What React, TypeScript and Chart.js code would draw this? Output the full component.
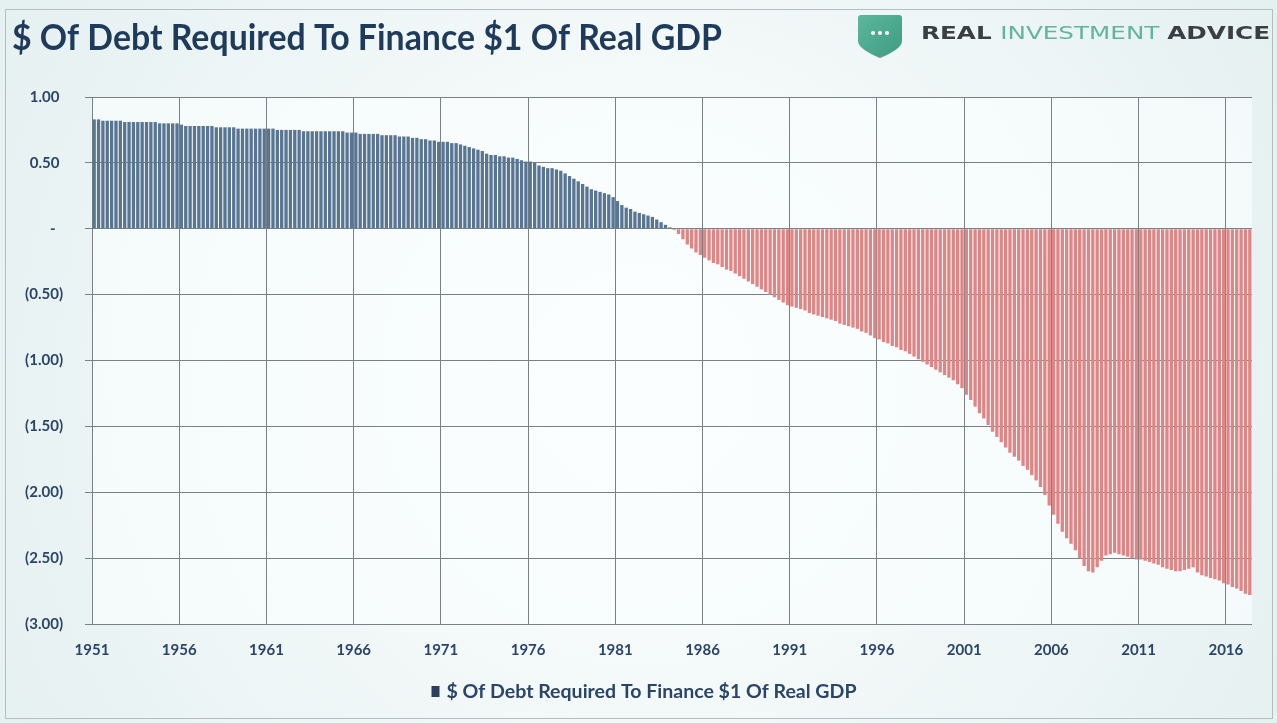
import React, { useEffect, useRef } from "react";
import { Chart, registerables } from "chart.js";

Chart.register(...registerables);

const TITLE = "$ Of Debt Required To Finance $1 Of Real GDP";
const SERIES_NAME = "$ Of Debt Required To Finance $1 Of Real GDP";
const FIRST_YEAR = 1951;
const X_TICK_YEARS = [1951, 1956, 1961, 1966, 1971, 1976, 1981, 1986, 1991, 1996, 2001, 2006, 2011, 2016];
const Y_TICKS = [1, 0.5, 0, -0.5, -1, -1.5, -2, -2.5, -3];

// Quarterly values, Q1..Q4 per row
const values1950s = [
  0.83, 0.83, 0.82, 0.82, // 1951
  0.82, 0.82, 0.82, 0.81, // 1952
  0.81, 0.81, 0.81, 0.81, // 1953
  0.81, 0.81, 0.81, 0.80, // 1954
  0.80, 0.80, 0.80, 0.80, // 1955
  0.79, 0.78, 0.78, 0.78, // 1956
  0.78, 0.78, 0.78, 0.78, // 1957
  0.77, 0.77, 0.77, 0.77, // 1958
  0.77, 0.76, 0.76, 0.76, // 1959
];
const values1960s = [
  0.76, 0.76, 0.76, 0.76, // 1960
  0.76, 0.76, 0.75, 0.75, // 1961
  0.75, 0.75, 0.75, 0.75, // 1962
  0.74, 0.74, 0.74, 0.74, // 1963
  0.74, 0.74, 0.74, 0.74, // 1964
  0.74, 0.74, 0.73, 0.73, // 1965
  0.73, 0.72, 0.72, 0.72, // 1966
  0.72, 0.72, 0.71, 0.71, // 1967
  0.71, 0.71, 0.70, 0.70, // 1968
  0.70, 0.69, 0.69, 0.68, // 1969
];
const values1970s = [
  0.68, 0.67, 0.67, 0.66, // 1970
  0.66, 0.66, 0.65, 0.65, // 1971
  0.64, 0.63, 0.62, 0.61, // 1972
  0.60, 0.59, 0.57, 0.56, // 1973
  0.56, 0.55, 0.55, 0.54, // 1974
  0.54, 0.53, 0.52, 0.51, // 1975
  0.51, 0.50, 0.48, 0.47, // 1976
  0.46, 0.46, 0.45, 0.44, // 1977
  0.42, 0.40, 0.38, 0.36, // 1978
  0.34, 0.32, 0.30, 0.29, // 1979
];
const values1980s = [
  0.28, 0.27, 0.26, 0.24, // 1980
  0.21, 0.18, 0.16, 0.15, // 1981
  0.13, 0.12, 0.11, 0.10, // 1982
  0.09, 0.07, 0.05, 0.03, // 1983
  0.01, -0.01, -0.04, -0.08, // 1984
  -0.12, -0.15, -0.18, -0.20, // 1985
  -0.22, -0.24, -0.26, -0.27, // 1986
  -0.29, -0.31, -0.32, -0.34, // 1987
  -0.36, -0.38, -0.40, -0.42, // 1988
  -0.44, -0.46, -0.48, -0.50, // 1989
];
const values1990s = [
  -0.52, -0.54, -0.56, -0.58, // 1990
  -0.59, -0.60, -0.61, -0.62, // 1991
  -0.64, -0.65, -0.66, -0.67, // 1992
  -0.68, -0.69, -0.70, -0.72, // 1993
  -0.73, -0.74, -0.75, -0.76, // 1994
  -0.78, -0.79, -0.81, -0.83, // 1995
  -0.84, -0.86, -0.87, -0.89, // 1996
  -0.90, -0.92, -0.93, -0.95, // 1997
  -0.97, -0.99, -1.01, -1.03, // 1998
  -1.05, -1.07, -1.09, -1.11, // 1999
];
const values2000s = [
  -1.13, -1.15, -1.18, -1.21, // 2000
  -1.26, -1.30, -1.35, -1.40, // 2001
  -1.44, -1.49, -1.54, -1.58, // 2002
  -1.62, -1.66, -1.70, -1.73, // 2003
  -1.76, -1.80, -1.83, -1.87, // 2004
  -1.91, -1.96, -2.02, -2.10, // 2005
  -2.17, -2.24, -2.30, -2.35, // 2006
  -2.39, -2.44, -2.50, -2.56, // 2007
  -2.60, -2.61, -2.57, -2.52, // 2008
  -2.48, -2.47, -2.46, -2.47, // 2009
];
const values2010s = [
  -2.48, -2.49, -2.50, -2.51, // 2010
  -2.51, -2.52, -2.53, -2.54, // 2011
  -2.55, -2.57, -2.58, -2.59, // 2012
  -2.60, -2.60, -2.59, -2.58, // 2013
  -2.57, -2.61, -2.63, -2.64, // 2014
  -2.65, -2.66, -2.67, -2.69, // 2015
  -2.70, -2.72, -2.73, -2.75, // 2016
  -2.77, -2.78, // 2017
];

const quarterlyValues = [
  ...values1950s,
  ...values1960s,
  ...values1970s,
  ...values1980s,
  ...values1990s,
  ...values2000s,
  ...values2010s,
];

const POS_COLOR = "#5a7592";
const NEG_COLOR = "#de8585";
const GRID_COLOR = "#7a8184";
const LABEL_COLOR = "#2a4568";
const TITLE_COLOR = "#1f3b5b";
const FONT = "Lato, 'Open Sans', sans-serif";

const decorPlugin = {
  id: "decor",
  beforeDraw(chart: any) {
    const { ctx, width, height, chartArea } = chart;
    ctx.save();
    const g = ctx.createRadialGradient(640, 380, 100, 640, 380, 800);
    g.addColorStop(0, "#fbfdfd");
    g.addColorStop(1, "#e3eff0");
    ctx.fillStyle = g;
    ctx.fillRect(0, 0, width, height);
    ctx.fillStyle = "rgba(250,253,253,0.7)";
    ctx.fillRect(chartArea.left, chartArea.top, chartArea.right - chartArea.left, chartArea.bottom - chartArea.top);
    ctx.strokeStyle = "#b5bdc0";
    ctx.lineWidth = 1;
    ctx.strokeRect(5.5, 9.5, 1267, 709);
    ctx.restore();
  },
  afterDraw(chart: any) {
    const { ctx } = chart;
    ctx.save();
    // Title
    ctx.fillStyle = TITLE_COLOR;
    ctx.font = `bold 36px ${FONT}`;
    ctx.textBaseline = "alphabetic";
    ctx.textAlign = "left";
    ctx.fillText(TITLE, 12, 50, 710);

    // Logo shield
    const sx = 858, sy = 15, sw = 44, sh = 43;
    const sg = ctx.createLinearGradient(sx, sy, sx + sw, sy + sh);
    sg.addColorStop(0, "#5cb79c");
    sg.addColorStop(1, "#3e9c82");
    ctx.fillStyle = sg;
    ctx.beginPath();
    ctx.moveTo(sx + 3, sy);
    ctx.lineTo(sx + sw - 3, sy);
    ctx.quadraticCurveTo(sx + sw, sy, sx + sw, sy + 3);
    ctx.lineTo(sx + sw, sy + 26);
    ctx.quadraticCurveTo(sx + sw, sy + 34, sx + sw / 2, sy + sh);
    ctx.quadraticCurveTo(sx, sy + 34, sx, sy + 26);
    ctx.lineTo(sx, sy + 3);
    ctx.quadraticCurveTo(sx, sy, sx + 3, sy);
    ctx.fill();
    ctx.fillStyle = "#ffffff";
    [-7, 0, 7].forEach((dx) => {
      ctx.beginPath();
      ctx.arc(sx + sw / 2 + dx, sy + 18, 2, 0, Math.PI * 2);
      ctx.fill();
    });

    // Logo text
    const parts = [
      { t: "REAL ", c: "#3a3f44", f: `bold 18px 'DejaVu Sans', sans-serif` },
      { t: "INVESTMENT ", c: "#62b59c", f: `18px 'DejaVu Sans', sans-serif` },
      { t: "ADVICE", c: "#3a3f44", f: `bold 18px 'DejaVu Sans', sans-serif` },
    ];
    let total = 0;
    parts.forEach((p) => {
      ctx.font = p.f;
      total += ctx.measureText(p.t).width;
    });
    const scaleX = 349 / total;
    ctx.save();
    ctx.translate(921, 39);
    ctx.scale(scaleX, 1);
    let x = 0;
    parts.forEach((p) => {
      ctx.font = p.f;
      ctx.fillStyle = p.c;
      ctx.fillText(p.t, x, 0);
      x += ctx.measureText(p.t).width;
    });
    ctx.restore();

    // Legend
    ctx.font = `bold 18px ${FONT}`;
    const tw = 410;
    const boxW = 8, gap = 7;
    const totalW = boxW + gap + tw;
    const lx = 644 - totalW / 2;
    const ly = 692;
    ctx.fillStyle = "#2b3f5c";
    ctx.fillRect(lx, ly - 6, boxW, 11);
    ctx.fillStyle = LABEL_COLOR;
    ctx.textBaseline = "middle";
    const natural = ctx.measureText(SERIES_NAME).width;
    ctx.save();
    ctx.translate(lx + boxW + gap, ly);
    ctx.scale(tw / natural, 1);
    ctx.fillText(SERIES_NAME, 0, 0);
    ctx.restore();
    ctx.restore();
  },
};

function formatY(v: number): string {
  if (Math.abs(v) < 1e-9) return "-  ";
  if (v < 0) return `(${Math.abs(v).toFixed(2)})`;
  return v.toFixed(2) + " ";
}

export default function App() {
  const canvasRef = useRef<HTMLCanvasElement | null>(null);

  useEffect(() => {
    const canvas = canvasRef.current;
    if (!canvas) return;
    const points = quarterlyValues.map((v, i) => ({ x: FIRST_YEAR + i / 4 + 0.125, y: v }));
    const tickFont = { family: FONT, size: 15, weight: "bold" as const };
    const chart = new Chart(canvas, {
      type: "bar",
      data: {
        datasets: [
          {
            label: SERIES_NAME,
            data: points as any,
            backgroundColor: (c: any) => (c.raw && c.raw.y < 0 ? NEG_COLOR : POS_COLOR),
            borderWidth: 0,
            categoryPercentage: 1,
            barPercentage: 0.76,
          },
        ],
      },
      options: {
        animation: false,
        responsive: false,
        maintainAspectRatio: false,
        layout: { padding: { left: 0, right: 25, top: 97, bottom: 55 } },
        plugins: { legend: { display: false }, tooltip: { enabled: false } },
        scales: {
          x: {
            type: "linear",
            min: FIRST_YEAR,
            max: 2017.5,
            offset: false,
            afterBuildTicks: (s: any) => {
              s.ticks = X_TICK_YEARS.map((v) => ({ value: v }));
            },
            afterFit: (s: any) => {
              s.height = 44;
            },
            grid: { color: GRID_COLOR, lineWidth: 1, drawTicks: false, offset: false },
            border: { display: false },
            ticks: {
              callback: (v: any) => String(v),
              font: tickFont,
              color: LABEL_COLOR,
              padding: 17,
              maxRotation: 0,
              autoSkip: false,
            },
          },
          y: {
            min: -3,
            max: 1,
            afterBuildTicks: (s: any) => {
              s.ticks = Y_TICKS.map((v) => ({ value: v }));
            },
            afterFit: (s: any) => {
              s.width = 92;
            },
            grid: { color: GRID_COLOR, lineWidth: 1, tickLength: 7 },
            border: { display: false },
            ticks: {
              callback: (v: any) => formatY(Number(v)),
              font: tickFont,
              color: LABEL_COLOR,
              padding: 22,
            },
          },
        },
      } as any,
      plugins: [decorPlugin],
    });
    return () => chart.destroy();
  }, []);

  return (
    <div style={{ position: "fixed", left: 0, top: 0, width: 1277, height: 723 }}>
      <canvas ref={canvasRef} width={1277} height={723} style={{ display: "block", width: 1277, height: 723 }} />
    </div>
  );
}
